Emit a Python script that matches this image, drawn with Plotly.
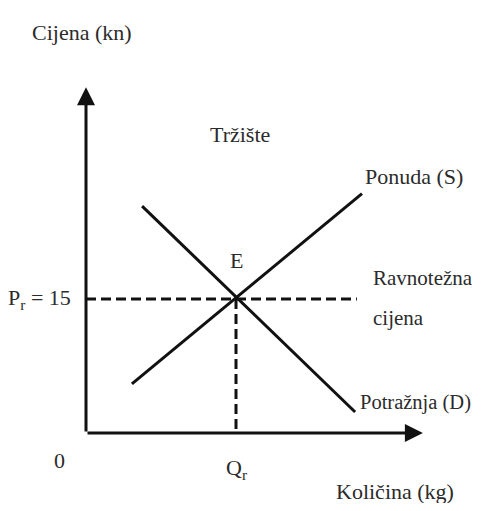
import plotly.graph_objects as go

# supply / demand lines (quantity, price)
supply_q = [15.3, 92.0]
supply_p = [5.5, 26.8]
demand_q = [18.7, 89.7]
demand_p = [25.4, 2.35]

# equilibrium point
eq_q = 50
eq_p = 15

# axis ends (arrow tips)
q_max = 112.3
p_max = 38.7

LINE = "#111111"
TEXT = "#2b2b2b"
FONT = "Liberation Serif, Times New Roman, Tinos, serif"

fig = go.Figure()

fig.add_trace(go.Scatter(x=supply_q, y=supply_p, mode="lines",
                         line=dict(color=LINE, width=3), hoverinfo="skip"))
fig.add_trace(go.Scatter(x=demand_q, y=demand_p, mode="lines",
                         line=dict(color=LINE, width=3), hoverinfo="skip"))

# dashed guide lines to the equilibrium
fig.add_trace(go.Scatter(x=[0, supply_q[1] - 1.7], y=[eq_p, eq_p], mode="lines",
                         line=dict(color=LINE, width=3, dash="10px,5px"), hoverinfo="skip"))
fig.add_trace(go.Scatter(x=[eq_q, eq_q], y=[eq_p, 0], mode="lines",
                         line=dict(color=LINE, width=3, dash="10px,5px"), hoverinfo="skip"))

# axes with arrows
fig.add_annotation(x=q_max, y=0, ax=0, ay=0, xref="x", yref="y", axref="x", ayref="y",
                   showarrow=True, arrowhead=2, arrowsize=1.2, arrowwidth=3,
                   arrowcolor=LINE, text="")
fig.add_annotation(x=0, y=p_max, ax=0, ay=0, xref="x", yref="y", axref="x", ayref="y",
                   showarrow=True, arrowhead=2, arrowsize=1.2, arrowwidth=3,
                   arrowcolor=LINE, text="")

labels = [
    ("Cijena (kn)", -18.7, 44.8, "left", 22),
    ("Tržište", 51.3, 33.4, "center", 22),
    ("Ponuda (S)", 92.3, 28.7, "left", 22),
    ("E", eq_q, 19.3, "center", 22),
    ("Ravnotežna", 95.0, 17.4, "left", 21),
    ("cijena", 95.0, 12.9, "left", 21),
    ("P<sub>r</sub> = 15", -4.5, 15.0, "right", 22),
    ("Potražnja (D)", 90.6, 3.4, "left", 20.5),
    ("0", -9.0, -3.1, "center", 22),
    ("Q<sub>r</sub>", eq_q, -4.0, "center", 22),
    ("Količina (kg)", 82.7, -6.6, "left", 22),
]
for text, x, y, anchor, size in labels:
    fig.add_annotation(x=x, y=y, xref="x", yref="y", text=text, showarrow=False,
                       xanchor=anchor, yanchor="middle", align="left",
                       font=dict(family=FONT, size=size, color=TEXT))

# page body has an 8px margin, so the figure is shrunk and the ranges shifted
fig.update_layout(
    width=474, height=495,
    margin=dict(l=0, r=0, t=0, b=0),
    paper_bgcolor="white", plot_bgcolor="white",
    showlegend=False,
    xaxis=dict(range=[-26, 132], visible=False, fixedrange=True),
    yaxis=dict(range=[-7.84, 47.57], visible=False, fixedrange=True),
)

fig.write_html("out.html", config={"displayModeBar": False})
